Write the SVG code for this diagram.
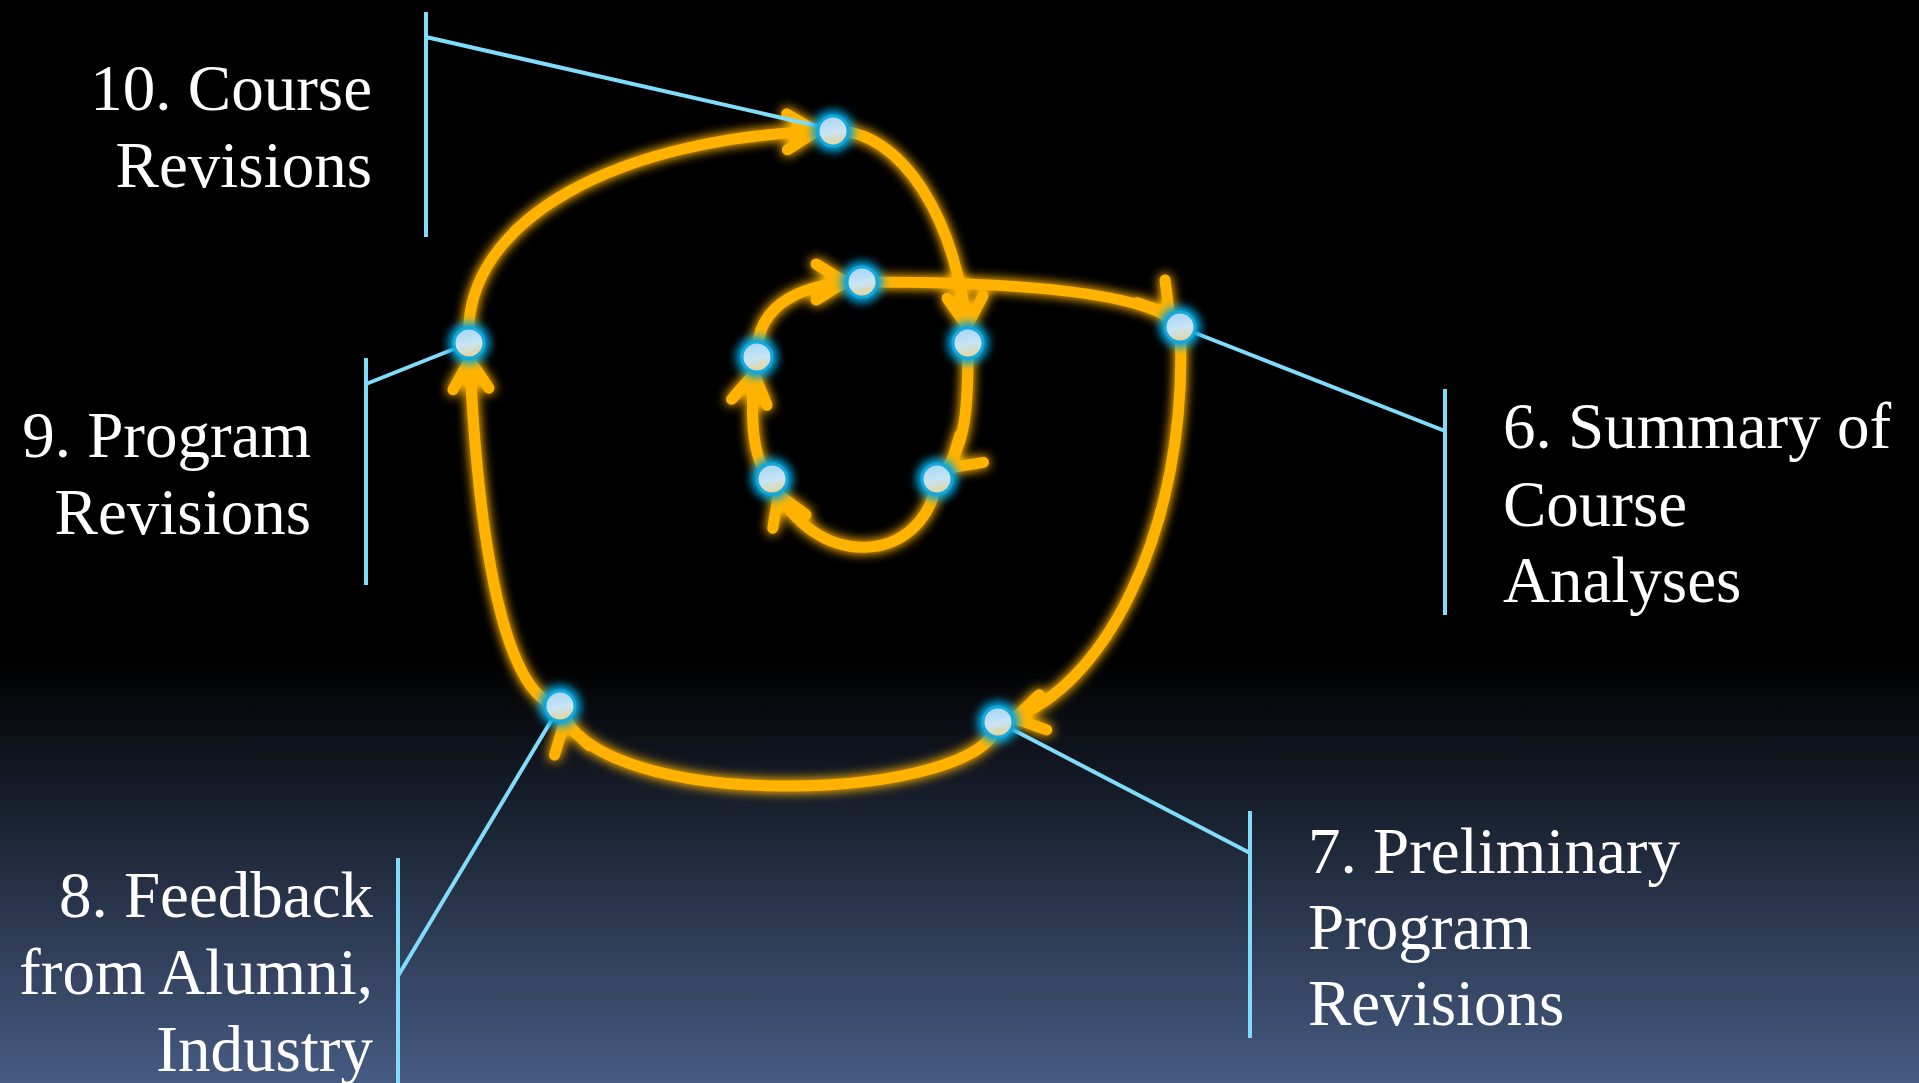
<svg xmlns="http://www.w3.org/2000/svg" width="1919" height="1083" viewBox="0 0 1919 1083">
<defs>
<linearGradient id="bg" x1="0" y1="0" x2="0" y2="1">
<stop offset="0" stop-color="#000000"/><stop offset="0.61" stop-color="#000000"/><stop offset="1" stop-color="#465B82"/>
</linearGradient>
<linearGradient id="dotfill" x1="0.3" y1="0" x2="0.5" y2="1">
<stop offset="0" stop-color="#A4D5F4"/><stop offset="0.55" stop-color="#C8E4F6"/><stop offset="1" stop-color="#E6D394"/>
</linearGradient>
<filter id="glowO" filterUnits="userSpaceOnUse" x="0" y="0" width="1919" height="1083">
<feGaussianBlur in="SourceGraphic" stdDeviation="6" result="b"/>
<feComponentTransfer in="b" result="b2"><feFuncA type="linear" slope="1.3"/></feComponentTransfer>
<feMerge><feMergeNode in="b2"/><feMergeNode in="SourceGraphic"/></feMerge>
</filter>
<filter id="glowC" x="-100%" y="-100%" width="300%" height="300%">
<feGaussianBlur stdDeviation="4"/>
</filter>
<marker id="arr" markerUnits="userSpaceOnUse" markerWidth="70" markerHeight="70" viewBox="-50 -35 70 70" refX="17" refY="0" orient="auto" overflow="visible">
<path d="M-29,-18 L0,0 L-29,18" fill="none" stroke="#FFB300" stroke-width="11" stroke-linecap="round" stroke-linejoin="round"/>
</marker>
<circle id="halo" r="21" fill="#00A3DC" filter="url(#glowC)"/>
</defs>
<style>
.sp{fill:none;stroke:#FFB300;stroke-width:11;stroke-linecap:round;marker-end:url(#arr)}
.co{fill:none;stroke:#7FDCFA;stroke-width:4}
.dot{fill:url(#dotfill);stroke:#15A8DC;stroke-width:3}
.t{font-family:"Liberation Serif","Times New Roman",serif;font-size:65px;fill:#FFFFFF}
.r{text-anchor:end}
</style>
<rect x="0" y="0" width="1919" height="1083" fill="url(#bg)"/>

<g id="connectors" filter="url(#glowO)">
<path class="sp" d="M469,343 C460,220 620,135 833,131"/>
<path class="sp" d="M833,131 C900,128 960,220 968,343"/>
<path class="sp" d="M968,343 C968,400 968,452 937,479"/>
<path class="sp" d="M937,479 C925,568 810,572 772,479"/>
<path class="sp" d="M772,479 C752,465 748,410 757,357"/>
<path class="sp" d="M757,357 C755,300 810,282 862,282"/>
<path class="sp" d="M862,282 C1000,282 1150,290 1180,327"/>
<path class="sp" d="M1180,327 C1190,530 1100,700 998,722"/>
<path class="sp" d="M998,722 C990,802 590,818 560,706"/>
<path class="sp" d="M560,706 C508,700 478,560 469,343"/>
</g>

<g id="step10">
<path class="co" d="M426,12 V237 M426,37 L831,129"/>
<text class="t r" x="372" y="110">10. Course</text>
<text class="t r" x="372" y="187">Revisions</text>
<use href="#halo" x="833" y="131"/><circle class="dot" cx="833" cy="131" r="15"/>
</g>
<g id="step9">
<path class="co" d="M366,358 V585 M366,384 L469,343"/>
<text class="t r" x="311" y="457">9. Program</text>
<text class="t r" x="311" y="534">Revisions</text>
<use href="#halo" x="469" y="343"/><circle class="dot" cx="469" cy="343" r="15"/>
</g>
<g id="step8">
<path class="co" d="M398,858 V1083 M398,976 L560,706"/>
<text class="t r" x="373" y="917">8. Feedback</text>
<text class="t r" x="373" y="994">from Alumni,</text>
<text class="t r" x="373" y="1071">Industry</text>
<use href="#halo" x="560" y="706"/><circle class="dot" cx="560" cy="706" r="15"/>
</g>
<g id="step7">
<path class="co" d="M1250,811 V1038 M998,722 L1250,853"/>
<text class="t" x="1308" y="873">7. Preliminary</text>
<text class="t" x="1308" y="949">Program</text>
<text class="t" x="1308" y="1025">Revisions</text>
<use href="#halo" x="998" y="722"/><circle class="dot" cx="998" cy="722" r="15"/>
</g>
<g id="step6">
<path class="co" d="M1445,389 V615 M1180,327 L1445,431"/>
<text class="t" x="1503" y="448">6. Summary of</text>
<text class="t" x="1503" y="526">Course</text>
<text class="t" x="1503" y="602">Analyses</text>
<use href="#halo" x="1180" y="327"/><circle class="dot" cx="1180" cy="327" r="15"/>
</g>
<g id="step1"><use href="#halo" x="968" y="343"/><circle class="dot" cx="968" cy="343" r="15"/></g>
<g id="step2"><use href="#halo" x="937" y="479"/><circle class="dot" cx="937" cy="479" r="15"/></g>
<g id="step3"><use href="#halo" x="772" y="479"/><circle class="dot" cx="772" cy="479" r="15"/></g>
<g id="step4"><use href="#halo" x="757" y="357"/><circle class="dot" cx="757" cy="357" r="15"/></g>
<g id="step5"><use href="#halo" x="862" y="282"/><circle class="dot" cx="862" cy="282" r="15"/></g>
</svg>
